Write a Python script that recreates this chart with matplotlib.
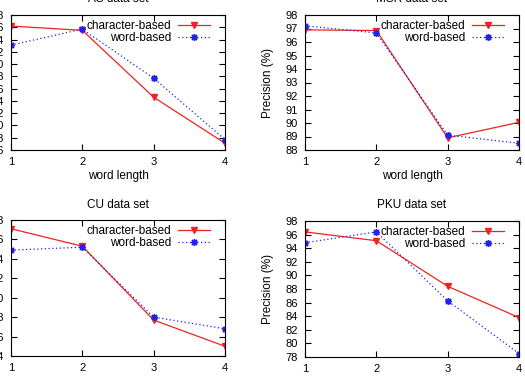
import numpy as np
from matplotlib import pyplot as plt

plt.rcParams['font.family'] = ['Liberation Sans', 'DejaVu Sans']

WORD_LEN = [1, 2, 3, 4]

AS_CHAR = [96.2, 95.5, 84.6, 77.1]
AS_WORD = [93.1, 95.7, 87.7, 77.7]
MSR_CHAR = [96.9, 96.85, 88.9, 90.05]
MSR_WORD = [97.2, 96.67, 89.1, 88.5]
CU_CHAR = [97.1, 95.3, 87.7, 85.0]
CU_WORD = [94.9, 95.2, 88.0, 86.8]
PKU_CHAR = [96.4, 95.1, 88.4, 83.8]
PKU_WORD = [94.8, 96.4, 86.25, 78.5]

PANELS = [
    ('AS data set', AS_CHAR, AS_WORD, (76, 98), 2),
    ('MSR data set', MSR_CHAR, MSR_WORD, (88, 98), 1),
    ('CU data set', CU_CHAR, CU_WORD, (84, 98), 2),
    ('PKU data set', PKU_CHAR, PKU_WORD, (78, 98), 2),
]

W, H = 525.0, 377.0
# axes boxes in pixels: left, top, right, bottom
BOXES = [
    (11, 15, 225, 150),
    (305, 15, 519, 150),
    (11, 220, 225, 356),
    (305, 221, 519, 357),
]

fig = plt.figure(figsize=(W / 100, H / 100), dpi=100, facecolor='w')

for i, (title, char, word, ylim, step) in enumerate(PANELS):
    l, t, r, b = BOXES[i]
    ax = fig.add_axes([l / W, 1 - b / H, (r - l) / W, (b - t) / H])
    ax.plot(WORD_LEN, char, color='#ee2222', linewidth=0.9, linestyle='-',
            marker='v', markersize=4, markerfacecolor='#ee2222', label='character-based')
    ax.plot(WORD_LEN, word, color='#2222ee', linewidth=0.9, linestyle=(0, (1, 2)),
            marker=(8, 2, 0), markersize=5, markeredgewidth=1.0, label='word-based')
    ax.set_xlim(1, 4)
    ax.set_ylim(*ylim)
    ax.set_xticks(WORD_LEN)
    ax.set_yticks(np.arange(ylim[0], ylim[1] + 0.1, step))
    ax.tick_params(direction='in', top=True, right=True, labelsize=8, length=4,
                   width=0.8, pad=5)
    for s in ax.spines.values():
        s.set_linewidth(0.8)
    ax.set_title(title, fontsize=8.5, pad=9)
    # bottom row: the x label sits below the cropped edge
    ax.set_xlabel('word length', fontsize=8.5, labelpad=2 if i < 2 else 8)
    ax.set_ylabel('Precision (%)', fontsize=8.5, labelpad=8)
    ax.legend(loc='upper right', bbox_to_anchor=(0.93, 0.96), frameon=False,
              markerfirst=False, fontsize=8.5, handlelength=2.7, handletextpad=0.6,
              labelspacing=0.0, borderaxespad=0, borderpad=0)

plt.savefig('out.png', dpi=100)
plt.close()
